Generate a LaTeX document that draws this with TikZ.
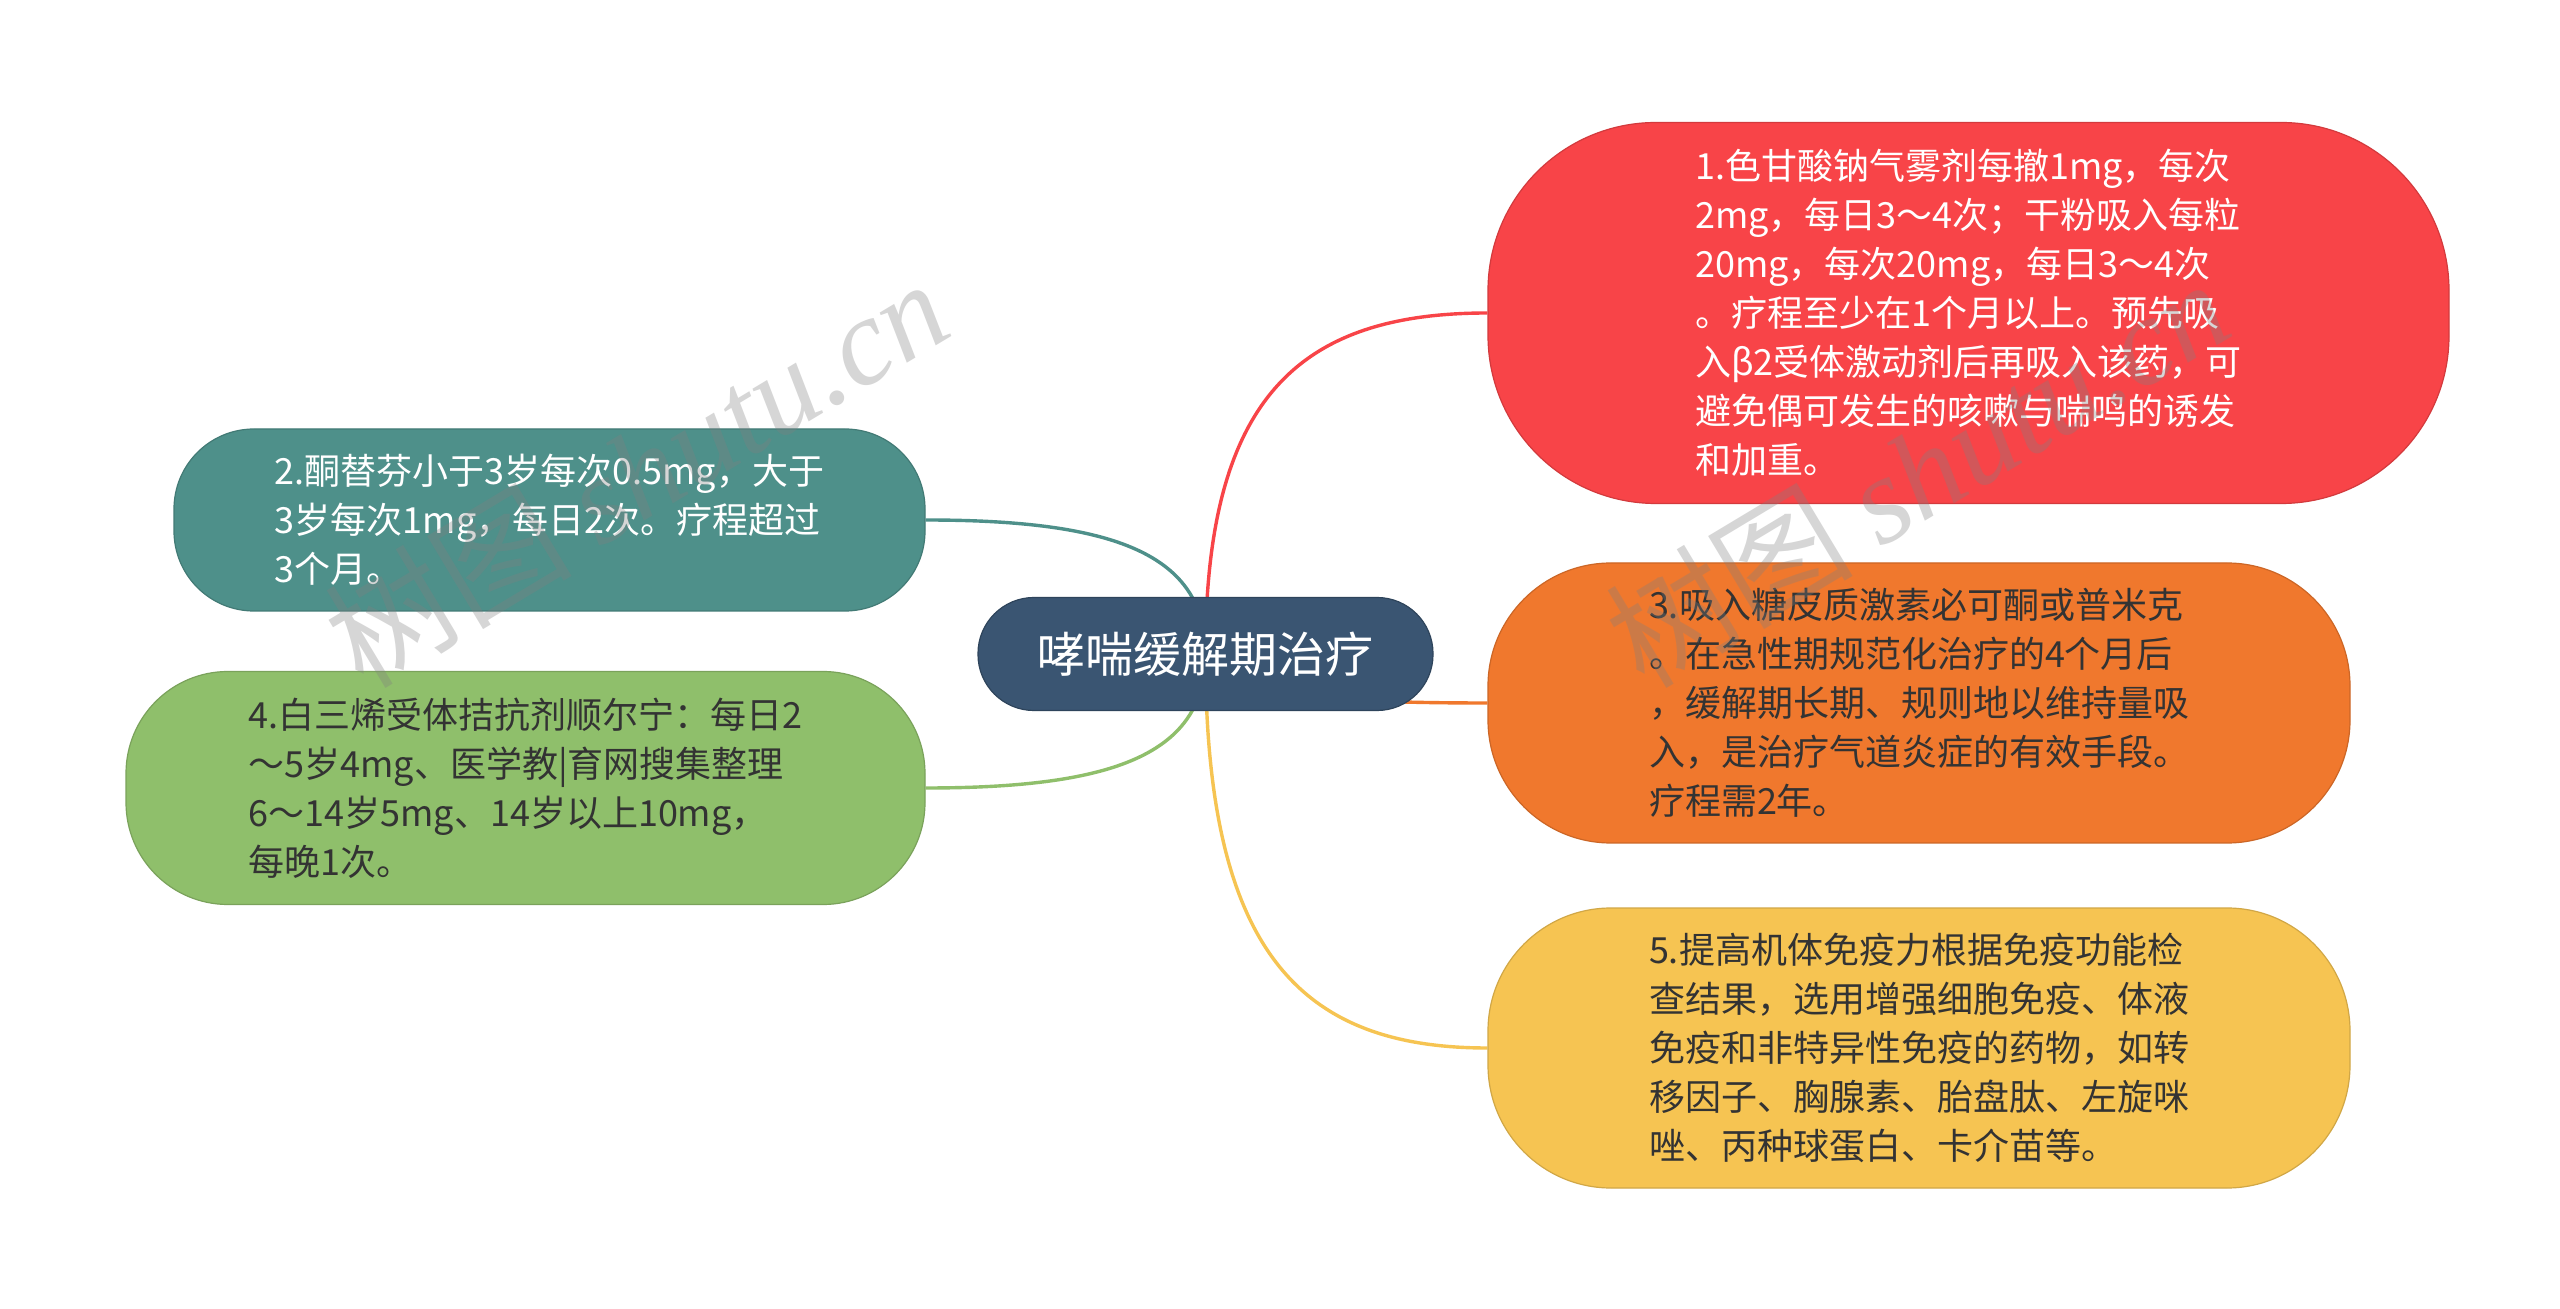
\documentclass[tikz,border=0pt]{standalone}
\usepackage{fontspec}
\setmainfont{Noto Sans CJK SC}
\newfontfamily\wmlatin{Liberation Serif}
\usetikzlibrary{calc,backgrounds}
\definecolor{cRoot}{HTML}{3A5572}
\definecolor{cRed}{HTML}{F84448}
\definecolor{cOrange}{HTML}{F0782D}
\definecolor{cYellow}{HTML}{F6C452}
\definecolor{cTeal}{HTML}{4E908A}
\definecolor{cGreen}{HTML}{8FBF6B}
\definecolor{cText}{HTML}{333333}
\tikzset{
  box/.style={rectangle, inner sep=0pt, align=left, line width=0.6pt,
    font=\fontsize{18pt}{24.5pt}\selectfont},
  rootbox/.style={rectangle, inner sep=0pt, align=center, line width=0.6pt,
    fill=cRoot, draw=cRoot!80!black, text=white,
    font=\fontsize{24pt}{30pt}\selectfont},
  conn/.style={line width=1.7pt},
  wm/.style={text=black!50, text opacity=0.32, anchor=base, rotate=31,
    font=\fontsize{62pt}{64pt}\selectfont}
}
\begin{document}
\begin{tikzpicture}[x=0.5pt,y=-0.5pt]
\useasboundingbox (0,0) rectangle (2560,1309);

\node[rootbox, minimum width=227.5pt, minimum height=56.5pt, rounded corners=28pt] (root) at (1205.5,654) {哮喘缓解期治疗};

\node[box, fill=cRed, draw=cRed!85!black, text=white, minimum width=480.5pt, minimum height=190.5pt, rounded corners=84pt] (red) at (1968.5,313) {1.色甘酸钠气雾剂每撤1mg，每次\\2mg，每日3～4次；干粉吸入每粒\\20mg，每次20mg，每日3～4次\\。疗程至少在1个月以上。预先吸\\入β2受体激动剂后再吸入该药，可\\避免偶可发生的咳嗽与喘鸣的诱发\\和加重。};

\node[box, fill=cOrange, draw=cOrange!85!black, text=cText, minimum width=431pt, minimum height=140pt, rounded corners=61.5pt] (orange) at (1919,703) {3.吸入糖皮质激素必可酮或普米克\\。在急性期规范化治疗的4个月后\\，缓解期长期、规则地以维持量吸\\入，是治疗气道炎症的有效手段。\\疗程需2年。};

\node[box, fill=cYellow, draw=cYellow!85!black, text=cText, minimum width=431pt, minimum height=140pt, rounded corners=61.5pt] (yellow) at (1919,1048) {5.提高机体免疫力根据免疫功能检\\查结果，选用增强细胞免疫、体液\\免疫和非特异性免疫的药物，如转\\移因子、胸腺素、胎盘肽、左旋咪\\唑、丙种球蛋白、卡介苗等。};

\node[box, fill=cTeal, draw=cTeal!85!black, text=white, minimum width=375.5pt, minimum height=91pt, rounded corners=40pt] (teal) at (549.5,520) {2.酮替芬小于3岁每次0.5mg，大于\\3岁每次1mg，每日2次。疗程超过\\3个月。};

\node[box, fill=cGreen, draw=cGreen!85!black, text=cText, minimum width=399.5pt, minimum height=116.5pt, rounded corners=51pt] (green) at (525.5,788) {4.白三烯受体拮抗剂顺尔宁：每日2\\～5岁4mg、医学教|育网搜集整理\\6～14岁5mg、14岁以上10mg，\\每晚1次。};

\begin{pgfonlayer}{background}
\fill[white] (0,0) rectangle (2560,1309);
\draw[conn, cRed] (root.center) .. controls ($(root.center)!0.75!(root.center |- red.west)$) and ($(red.west)!0.67!(root.center |- red.west)$) .. (red.west);
\draw[conn, cOrange] (root.center) .. controls ($(root.center)!0.75!(root.center |- orange.west)$) and ($(orange.west)!0.67!(root.center |- orange.west)$) .. (orange.west);
\draw[conn, cYellow] (root.center) .. controls ($(root.center)!0.75!(root.center |- yellow.west)$) and ($(yellow.west)!0.67!(root.center |- yellow.west)$) .. (yellow.west);
\draw[conn, cTeal] (root.center) .. controls ($(root.center)!0.75!(root.center |- teal.east)$) and ($(teal.east)!0.67!(root.center |- teal.east)$) .. (teal.east);
\draw[conn, cGreen] (root.center) .. controls ($(root.center)!0.75!(root.center |- green.east)$) and ($(green.east)!0.67!(root.center |- green.east)$) .. (green.east);
\end{pgfonlayer}

\node[wm] (wm1) at (660,512) {树图 {\wmlatin\itshape shutu.cn}};
\node[wm] (wm2) at (1941,512) {树图 {\wmlatin\itshape shutu.cn}};
\end{tikzpicture}
\end{document}
